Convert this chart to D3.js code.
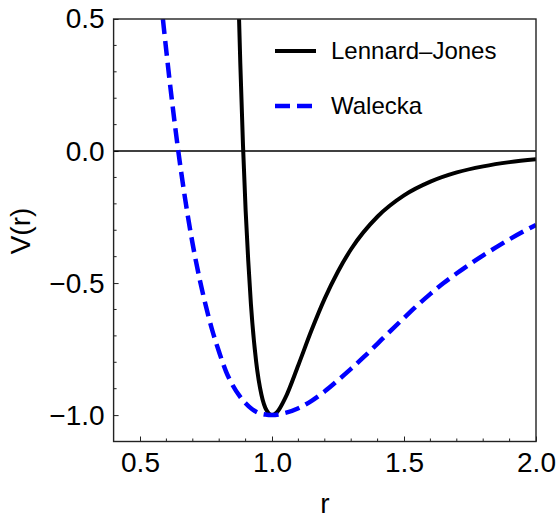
<!DOCTYPE html>
<html>
<head>
<meta charset="utf-8">
<script src="https://cdn.jsdelivr.net/npm/d3@7"></script>
<style>
  body { margin: 0; background: #fff; }
  svg { display: block; }
  text { font-family: "Liberation Sans", Arial, sans-serif; }
</style>
</head>
<body>
<div id="chart"></div>
<script>
const width = 558;
const height = 520;

// Lennard-Jones curve
const ljR = [0.87, 0.875, 0.88, 0.89, 0.9, 0.91, 0.92, 0.94, 0.96, 0.98, 1.0, 1.02, 1.05, 1.1, 1.15, 1.2, 1.25, 1.3, 1.4, 1.5, 1.6, 1.7, 1.8, 1.9, 2.0];
const ljV = [0.706, 0.508, 0.330, 0.025, -0.223, -0.415, -0.578, -0.798, -0.923, -0.983, -1.0, -0.988, -0.936, -0.810, -0.678, -0.558, -0.456, -0.371, -0.248, -0.168, -0.116, -0.081, -0.058, -0.042, -0.031];

// Walecka curve
const wR = [0.57, 0.58, 0.59, 0.60, 0.62, 0.645, 0.67, 0.70, 0.727, 0.75, 0.772, 0.80, 0.826, 0.85, 0.879, 0.90, 0.925, 0.95, 0.975, 1.0,
            1.05, 1.1, 1.15, 1.2, 1.25, 1.3, 1.35, 1.4, 1.45, 1.5, 1.55, 1.6, 1.65, 1.7, 1.75, 1.8, 1.85, 1.9, 1.95, 2.0];
const wV = [0.666, 0.566, 0.469, 0.376, 0.2, 0.0, -0.175, -0.355, -0.49, -0.589, -0.673, -0.762, -0.835, -0.885, -0.93, -0.955, -0.978, -0.992, -0.998, -1.0,
            -0.992, -0.974, -0.946, -0.91, -0.868, -0.824, -0.778, -0.729, -0.68, -0.632, -0.585, -0.541, -0.5, -0.463, -0.428, -0.395, -0.364, -0.334, -0.306, -0.28];

const xTicks = [0.5, 1.0, 1.5, 2.0];
const yTicks = [0.5, 0.0, -0.5, -1.0];
const seriesNames = ["Lennard\u2013Jones", "Walecka"];

const plotLeft = 113.6, plotRight = 536, plotTop = 19, plotBottom = 441.5;

const x = d3.scaleLinear().domain([0.4, 2.0]).range([plotLeft, plotRight]);
const y = d3.scaleLinear().domain([-1.1, 0.5]).range([plotBottom, plotTop]);

const fmt = v => (v < 0 ? "\u2212" : "") + Math.abs(v).toFixed(1);

const svg = d3.select("#chart").append("svg")
    .attr("width", width)
    .attr("height", height);

svg.append("defs").append("clipPath")
    .attr("id", "plot-clip")
    .append("rect")
    .attr("x", plotLeft).attr("y", plotTop)
    .attr("width", plotRight - plotLeft).attr("height", plotBottom - plotTop);

// minor ticks every 0.1
const xMinor = d3.range(5, 20).map(i => i / 10).filter(v => !xTicks.some(t => Math.abs(t - v) < 1e-9));
const yMinor = d3.range(-10, 5).map(i => i / 10).filter(v => !yTicks.some(t => Math.abs(t - v) < 1e-9));

svg.append("g").attr("stroke", "#222").attr("stroke-width", 1)
    .selectAll("line").data(xMinor).join("line")
    .attr("x1", d => x(d)).attr("x2", d => x(d))
    .attr("y1", plotBottom).attr("y2", plotBottom - 3);

svg.append("g").attr("stroke", "#222").attr("stroke-width", 1)
    .selectAll("line").data(yMinor).join("line")
    .attr("x1", plotLeft).attr("x2", plotLeft + 3)
    .attr("y1", d => y(d)).attr("y2", d => y(d));

// major axes
const xAxis = svg.append("g")
    .attr("transform", `translate(0,${plotBottom})`)
    .call(d3.axisBottom(x).tickValues(xTicks).tickSizeInner(-5).tickSizeOuter(0).tickPadding(11).tickFormat(fmt));
xAxis.select(".domain").remove();
xAxis.selectAll(".tick line").attr("stroke", "#222");
xAxis.selectAll("text").attr("font-size", 28).attr("fill", "#000")
    .attr("font-family", "Liberation Sans, Arial, sans-serif");

const yAxis = svg.append("g")
    .attr("transform", `translate(${plotLeft},0)`)
    .call(d3.axisLeft(y).tickValues(yTicks).tickSizeInner(-5).tickSizeOuter(0).tickPadding(9).tickFormat(fmt));
yAxis.select(".domain").remove();
yAxis.selectAll(".tick line").attr("stroke", "#222");
yAxis.selectAll("text").attr("font-size", 28).attr("fill", "#000")
    .attr("font-family", "Liberation Sans, Arial, sans-serif");

// zero line
svg.append("line")
    .attr("x1", plotLeft).attr("x2", plotRight)
    .attr("y1", y(0)).attr("y2", y(0))
    .attr("stroke", "#000").attr("stroke-width", 1.6);

const line = d3.line()
    .x(d => x(d[0]))
    .y(d => y(d[1]))
    .curve(d3.curveMonotoneX);

const curves = svg.append("g").attr("clip-path", "url(#plot-clip)");

curves.append("path")
    .datum(d3.zip(ljR, ljV))
    .attr("d", line)
    .attr("fill", "none")
    .attr("stroke", "#000")
    .attr("stroke-width", 4);

curves.append("path")
    .datum(d3.zip(wR, wV))
    .attr("d", line)
    .attr("fill", "none")
    .attr("stroke", "#0000ff")
    .attr("stroke-width", 4.5)
    .attr("stroke-dasharray", "15,7");

// frame
svg.append("rect")
    .attr("x", plotLeft).attr("y", plotTop)
    .attr("width", plotRight - plotLeft).attr("height", plotBottom - plotTop)
    .attr("fill", "none")
    .attr("stroke", "#222")
    .attr("stroke-width", 1.4);

// legend
const legend = svg.append("g");
const legendY = [51, 106];
legend.selectAll("line").data(seriesNames).join("line")
    .attr("x1", 275).attr("x2", 316)
    .attr("y1", (d, i) => legendY[i]).attr("y2", (d, i) => legendY[i])
    .attr("stroke", (d, i) => i === 0 ? "#000" : "#0000ff")
    .attr("stroke-width", (d, i) => i === 0 ? 4 : 4.5)
    .attr("stroke-dasharray", (d, i) => i === 0 ? null : "15,7");

legend.selectAll("text").data(seriesNames).join("text")
    .attr("x", 331)
    .attr("y", (d, i) => legendY[i])
    .attr("dy", "0.35em")
    .attr("font-size", 24)
    .attr("fill", "#000")
    .text(d => d);

// axis titles
svg.append("text")
    .attr("x", x(1.2))
    .attr("y", 513)
    .attr("text-anchor", "middle")
    .attr("font-size", 28)
    .text("r");

svg.append("text")
    .attr("transform", "translate(30,231) rotate(-90)")
    .attr("text-anchor", "middle")
    .attr("font-size", 28)
    .text("V(r)");
</script>
</body>
</html>
